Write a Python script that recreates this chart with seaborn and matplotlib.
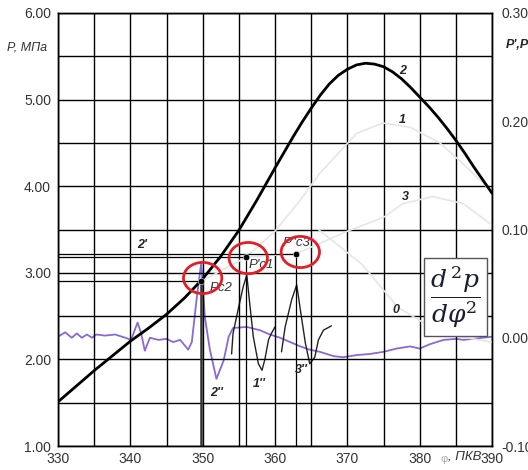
import matplotlib
matplotlib.use("Agg")
import matplotlib.pyplot as plt
import seaborn as sns
from matplotlib.patches import Ellipse
from matplotlib.ticker import MultipleLocator

# --- pressure curve 2 (left axis, MPa) ---
phi_p2 = [330, 332.5, 335, 337.5, 340, 342.5, 345, 347.5, 350, 352.5, 355, 357.5,
          360, 361.25, 362.5, 363.75, 365, 366.25, 367.5, 368.75, 370, 371.25,
          372.5, 373.75, 375, 376.25, 377.5, 378.75, 380, 381.25, 382.5, 383.75,
          385, 386.25, 387.5, 388.75, 390]
p2 = [1.51, 1.69, 1.87, 2.04, 2.21, 2.36, 2.52, 2.71, 2.93, 3.19, 3.49, 3.84,
      4.21, 4.39, 4.57, 4.74, 4.90, 5.05, 5.18, 5.28, 5.35, 5.40,
      5.42, 5.41, 5.38, 5.32, 5.24, 5.14, 5.03, 4.92, 4.80, 4.67,
      4.53, 4.38, 4.22, 4.07, 3.92]

# faint pressure curves 1, 3, 0
phi_p1 = [349.8, 356.0, 360.0, 363.5, 366.2, 371.3, 374.9, 378.7, 382.8, 386.5, 389.3]
p1 = [2.90, 3.18, 3.48, 3.84, 4.15, 4.61, 4.73, 4.68, 4.50, 4.22, 3.99]
phi_p3 = [356.0, 362.9, 366.2, 370.0, 375.0, 377.7, 381.8, 386.0, 389.7]
p3 = [3.18, 3.22, 3.34, 3.48, 3.64, 3.80, 3.88, 3.80, 3.57]
phi_p0 = [366.0, 372.0, 377.0, 383.0, 390.0]
p0 = [3.50, 3.10, 2.60, 2.30, 2.20]

# --- second derivative 2'' (right axis) ---
phi_d2 = [330.0, 331.0, 331.9, 332.6, 333.3, 334.0, 334.7, 335.3, 336.5, 337.9,
          339.3, 340.1, 341.0, 341.5, 342.0, 342.7, 343.9, 345.0, 345.9, 346.9,
          348.0, 348.5, 349.2, 349.8, 350.3, 351.0, 351.9, 352.9, 353.6, 354.2,
          356.1, 357.9, 359.3, 360.7, 362.1, 363.5, 364.8, 366.2, 368.1, 369.4,
          371.3, 373.1, 375.0, 376.8, 378.7, 380.0, 381.4, 383.3, 385.1, 386.0,
          387.4, 390.0]
d2 = [0.001, 0.005, 0.000, 0.004, 0.000, 0.003, 0.000, 0.003, 0.002, 0.003,
      0.000, -0.002, 0.014, 0.004, -0.012, 0.000, -0.002, -0.001, -0.004, -0.002,
      -0.011, -0.004, 0.038, 0.069, 0.019, -0.011, -0.038, -0.021, 0.001, 0.009,
      0.010, 0.007, 0.003, 0.000, -0.004, -0.008, -0.011, -0.013, -0.017, -0.018,
      -0.016, -0.015, -0.013, -0.010, -0.008, -0.010, -0.006, -0.002, -0.001, -0.002,
      -0.001, 0.001]

# --- second derivatives 1'' and 3'' (right axis) ---
phi_d1 = [354.0, 354.2, 354.9, 355.6, 356.1, 356.5, 357.0, 357.7, 358.2, 358.6, 359.1, 359.5, 360.0]
d1 = [-0.015, 0.004, 0.026, 0.047, 0.058, 0.032, 0.001, -0.024, -0.030, -0.020, -0.002, 0.004, 0.010]
phi_d3 = [360.9, 361.4, 362.3, 363.0, 363.5, 364.2, 364.8, 365.5, 366.0, 366.7, 367.8]
d3 = [-0.013, 0.010, 0.035, 0.049, 0.026, -0.005, -0.024, -0.018, -0.002, 0.007, 0.011]

# marked points
pt_names = ["Pc2", "P'c1", "P''c3"]
pt_phi = [349.8, 356.0, 362.9]
pt_p = [2.90, 3.18, 3.22]

sns.set_style("white")
plt.rcParams['font.family'] = ['Liberation Sans', 'DejaVu Sans']

fig = plt.figure(figsize=(5.28, 4.70), dpi=100)
ax = fig.add_axes([58/528, 24/470, 434/528, 433/470])
ax2 = ax.twinx()
ax.set_zorder(ax2.get_zorder() + 1)
ax.patch.set_visible(False)

# faint curves
for xs, ys in [(phi_p1, p1), (phi_p3, p3), (phi_p0, p0)]:
    sns.lineplot(x=xs, y=ys, ax=ax, color='#e6e6e6', lw=1.2, sort=False)

# reference lines
for name, x0, y0 in zip(pt_names, pt_phi, pt_p):
    ax.plot([330, x0], [y0, y0], color='black', lw=0.9)
    ax.plot([x0, x0], [1.0, y0], color='#333333' if name == 'Pc2' else 'black',
            lw=1.8 if name == 'Pc2' else 0.9)

sns.lineplot(x=phi_p2, y=p2, ax=ax, color='black', lw=2.0)
sns.scatterplot(x=pt_phi, y=pt_p, ax=ax, color='black', s=22, zorder=5)

# red circles
for cx, cy in [(350.0, 2.94), (356.3, 3.17), (363.5, 3.24)]:
    ax.add_patch(Ellipse((cx, cy), 5.3, 0.36, fill=False, ec='#e41e26', lw=2.0, zorder=6))

sns.lineplot(x=phi_d2, y=d2, ax=ax2, color='#8a68d8', lw=1.3)
sns.lineplot(x=phi_d1, y=d1, ax=ax2, color='#222222', lw=1.0)
sns.lineplot(x=phi_d3, y=d3, ax=ax2, color='#222222', lw=1.0)

ax.set_xlim(330, 390)
ax.set_ylim(1.0, 6.0)
ax2.set_ylim(-0.10, 0.30)
ax.xaxis.set_major_locator(MultipleLocator(10))
ax.xaxis.set_minor_locator(MultipleLocator(5))
ax.yaxis.set_major_locator(MultipleLocator(1.0))
ax.yaxis.set_minor_locator(MultipleLocator(0.5))
ax2.yaxis.set_major_locator(MultipleLocator(0.1))
ax.grid(which='both', color='black', lw=1.0)
ax.set_axisbelow(True)
ax.yaxis.set_major_formatter(plt.FuncFormatter(lambda v, _: f"{v:.2f}"))
ax2.yaxis.set_major_formatter(plt.FuncFormatter(lambda v, _: f"{v:.2f}"))
ax.tick_params(which='both', length=0, labelsize=10, labelcolor='#333333')
ax.tick_params(axis='y', pad=5)
ax.tick_params(axis='x', pad=4)
ax2.tick_params(length=0, labelsize=10, labelcolor='#333333', pad=7)
ax.set_xlabel('')
ax.set_ylabel('')
ax2.set_ylabel('')
for a in (ax, ax2):
    for s in a.spines.values():
        s.set_color('black')
        s.set_linewidth(1.0)

# point labels
ax.text(351.0, 2.82, "Pc2", fontsize=9.5, style='italic', color='#333333', va='center')
ax.text(356.4, 3.09, "P'c1", fontsize=9.5, style='italic', color='#333333', va='center')
ax.text(361.0, 3.34, "P''c3", fontsize=9.5, style='italic', color='#333333', va='center')

# curve labels
curve_lbl = [("2", 377.7, 5.33), ("1", 377.6, 4.76), ("3", 378.0, 3.87), ("0", 376.7, 2.57),
             ("2'", 341.6, 3.32), ("2''", 352.0, 1.61), ("1''", 357.8, 1.72), ("3''", 363.7, 1.88)]
for t, x0, y0 in curve_lbl:
    ax.text(x0, y0, t, fontsize=9, fontweight='bold', style='italic', ha='center', va='center')

# formula box
ax.text(384.9, 2.72, r'$\dfrac{d^{\,2}p}{d\varphi^{2}}$', fontsize=18, math_fontfamily='dejavuserif',
        ha='center', va='center', color='#1c1c30',
        bbox=dict(boxstyle='square,pad=0.25', fc='white', ec='#555555', lw=1.0), zorder=7)

# axis titles
fig.text(7/528, 1 - 48/470, "P, МПа", fontsize=9, style='italic', va='center', color='#333333')
fig.text(506/528, 1 - 45/470, "P',P''", fontsize=9, style='italic', fontweight='bold', va='center')
ax.text(383.4, -0.018, "φ", transform=ax.get_xaxis_transform(), fontsize=8, color='#aaaaaa',
        ha='center', va='top')
ax.text(386.2, -0.011, ", ПКВ", transform=ax.get_xaxis_transform(), fontsize=9.5, style='italic',
        ha='center', va='top', color='#333333')

fig.savefig('out.png', dpi=100)
